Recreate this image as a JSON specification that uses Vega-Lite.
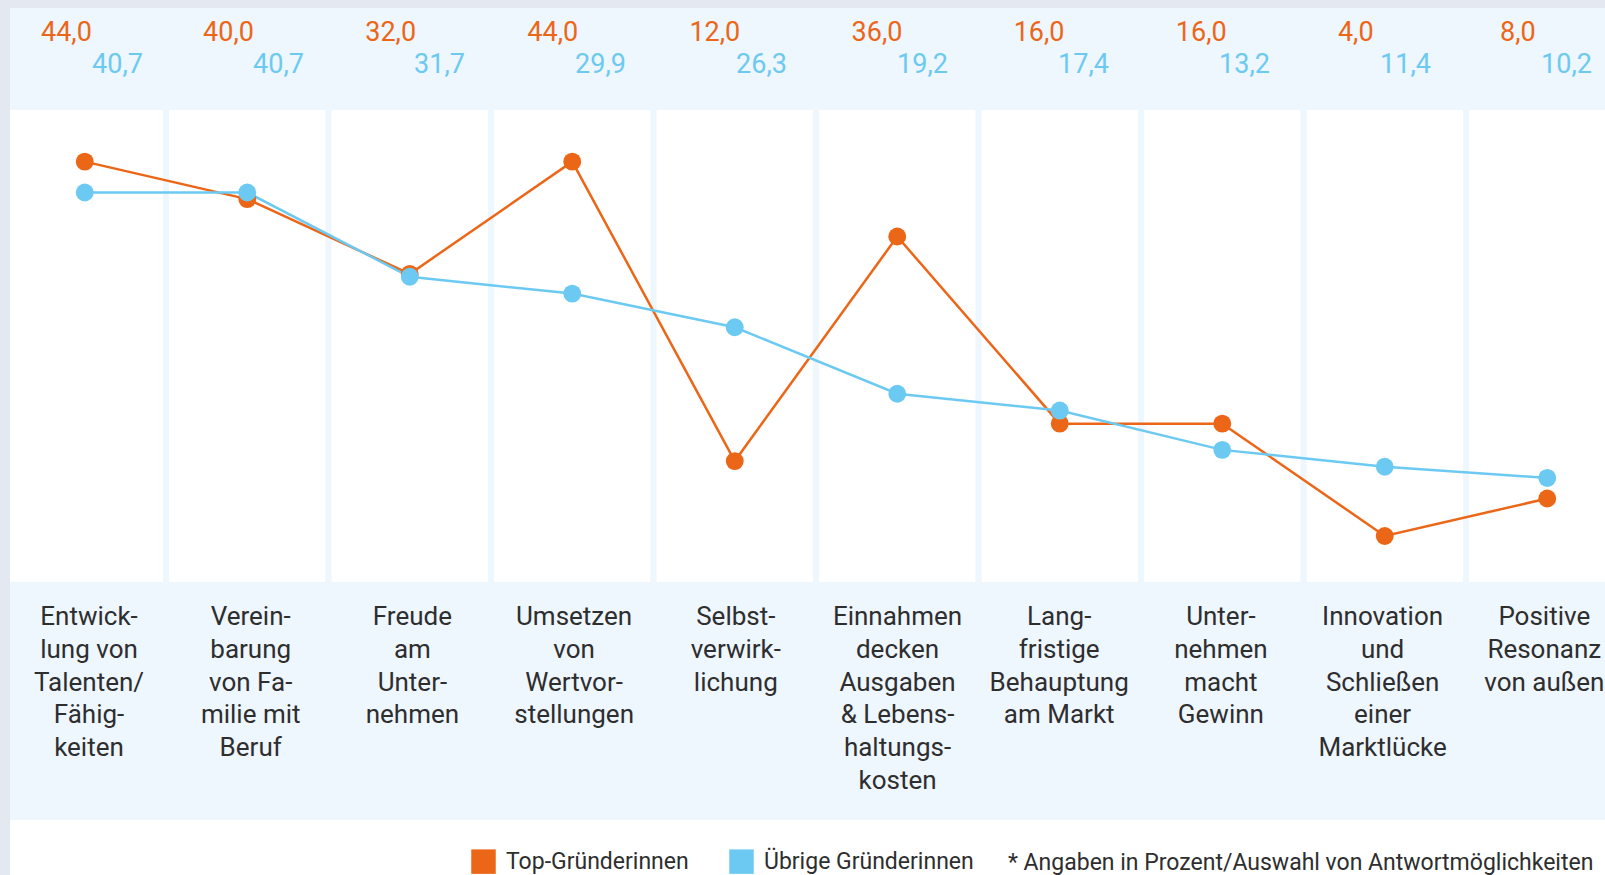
{
  "$schema": "https://vega.github.io/schema/vega-lite/v6.json",
  "background": "#e4e8f0",
  "padding": {"left": 10, "top": 8, "right": 0, "bottom": 0},
  "spacing": 0,
  "bounds": "flush",
  "config": {
    "view": {"stroke": null},
    "locale": {"number": {"decimal": ",", "thousands": ".", "grouping": [3], "currency": ["", " €"]}},
    "text": {"font": "Roboto"}
  },
  "data": {
    "values": [
      {"kategorie": "Entwicklung von Talenten/Fähigkeiten", "zeilen": ["Entwick-", "lung von", "Talenten/", "Fähig-", "keiten"], "Top-Gründerinnen": 44.0, "Übrige Gründerinnen": 40.7},
      {"kategorie": "Vereinbarung von Familie mit Beruf", "zeilen": ["Verein-", "barung", "von Fa-", "milie mit", "Beruf"], "Top-Gründerinnen": 40.0, "Übrige Gründerinnen": 40.7},
      {"kategorie": "Freude am Unternehmen", "zeilen": ["Freude", "am", "Unter-", "nehmen"], "Top-Gründerinnen": 32.0, "Übrige Gründerinnen": 31.7},
      {"kategorie": "Umsetzen von Wertvorstellungen", "zeilen": ["Umsetzen", "von", "Wertvor-", "stellungen"], "Top-Gründerinnen": 44.0, "Übrige Gründerinnen": 29.9},
      {"kategorie": "Selbstverwirklichung", "zeilen": ["Selbst-", "verwirk-", "lichung"], "Top-Gründerinnen": 12.0, "Übrige Gründerinnen": 26.3},
      {"kategorie": "Einnahmen decken Ausgaben & Lebenshaltungskosten", "zeilen": ["Einnahmen", "decken", "Ausgaben", "& Lebens-", "haltungs-", "kosten"], "Top-Gründerinnen": 36.0, "Übrige Gründerinnen": 19.2},
      {"kategorie": "Langfristige Behauptung am Markt", "zeilen": ["Lang-", "fristige", "Behauptung", "am Markt"], "Top-Gründerinnen": 16.0, "Übrige Gründerinnen": 17.4},
      {"kategorie": "Unternehmen macht Gewinn", "zeilen": ["Unter-", "nehmen", "macht", "Gewinn"], "Top-Gründerinnen": 16.0, "Übrige Gründerinnen": 13.2},
      {"kategorie": "Innovation und Schließen einer Marktlücke", "zeilen": ["Innovation", "und", "Schließen", "einer", "Marktlücke"], "Top-Gründerinnen": 4.0, "Übrige Gründerinnen": 11.4},
      {"kategorie": "Positive Resonanz von außen", "zeilen": ["Positive", "Resonanz", "von außen"], "Top-Gründerinnen": 8.0, "Übrige Gründerinnen": 10.2}
    ]
  },
  "vconcat": [
    {
      "width": 1595,
      "height": 102,
      "view": {"fill": "#eef6fe", "stroke": null},
      "transform": [{"fold": ["Top-Gründerinnen", "Übrige Gründerinnen"], "as": ["gruppe", "wert"]}],
      "layer": [
        {
          "transform": [{"filter": "datum.gruppe === 'Top-Gründerinnen'"}],
          "mark": {"type": "text", "font": "Roboto", "fontSize": 27, "align": "left", "baseline": "alphabetic", "color": "#ec6618"},
          "encoding": {
            "x": {"field": "kategorie", "type": "nominal", "sort": null, "axis": null, "scale": {"type": "point", "range": [31, 1490], "padding": 0}},
            "y": {"field": "gruppe", "type": "nominal", "axis": null, "scale": {"type": "point", "domain": ["Top-Gründerinnen", "Übrige Gründerinnen"], "range": [33.2, 65.3], "padding": 0}},
            "text": {"field": "wert", "type": "quantitative", "format": ".1f"}
          }
        },
        {
          "transform": [{"filter": "datum.gruppe === 'Übrige Gründerinnen'"}],
          "mark": {"type": "text", "font": "Roboto", "fontSize": 27, "align": "left", "baseline": "alphabetic", "color": "#6ccaf2"},
          "encoding": {
            "x": {"field": "kategorie", "type": "nominal", "sort": null, "axis": null, "scale": {"type": "point", "range": [82.1, 1531.1], "padding": 0}},
            "y": {"field": "gruppe", "type": "nominal", "axis": null, "scale": {"type": "point", "domain": ["Top-Gründerinnen", "Übrige Gründerinnen"], "range": [33.2, 65.3], "padding": 0}},
            "text": {"field": "wert", "type": "quantitative", "format": ".1f"}
          }
        }
      ],
      "resolve": {"scale": {"x": "independent"}}
    },
    {
      "width": 1595,
      "height": 472,
      "view": {"fill": "#ffffff", "stroke": null},
      "layer": [
        {
          "transform": [{"filter": "datum.kategorie !== 'Entwicklung von Talenten/Fähigkeiten'"}],
          "mark": {"type": "rule", "strokeWidth": 6, "color": "#eef6fe"},
          "encoding": {
            "x": {"field": "kategorie", "type": "nominal", "bandPosition": 0, "axis": null,
                  "scale": {"type": "band", "paddingInner": 0, "paddingOuter": 0, "range": [-6.5, 1618.5],
                            "domain": ["Entwicklung von Talenten/Fähigkeiten", "Vereinbarung von Familie mit Beruf", "Freude am Unternehmen", "Umsetzen von Wertvorstellungen", "Selbstverwirklichung", "Einnahmen decken Ausgaben & Lebenshaltungskosten", "Langfristige Behauptung am Markt", "Unternehmen macht Gewinn", "Innovation und Schließen einer Marktlücke", "Positive Resonanz von außen"]}}
          }
        },
        {
          "transform": [{"fold": ["Top-Gründerinnen", "Übrige Gründerinnen"], "as": ["gruppe", "wert"]}, {"filter": "datum.gruppe === 'Top-Gründerinnen'"}],
          "mark": {"type": "line", "color": "#ec6618", "strokeWidth": 2.5},
          "encoding": {
            "x": {"field": "kategorie", "type": "nominal", "axis": null},
            "y": {"field": "wert", "type": "quantitative", "axis": null, "scale": {"domain": [-0.92, 49.52], "nice": false, "zero": false}}
          }
        },
        {
          "transform": [{"fold": ["Top-Gründerinnen", "Übrige Gründerinnen"], "as": ["gruppe", "wert"]}, {"filter": "datum.gruppe === 'Übrige Gründerinnen'"}],
          "mark": {"type": "line", "color": "#6ccaf2", "strokeWidth": 2.5},
          "encoding": {
            "x": {"field": "kategorie", "type": "nominal", "axis": null},
            "y": {"field": "wert", "type": "quantitative", "axis": null}
          }
        },
        {
          "transform": [{"fold": ["Top-Gründerinnen", "Übrige Gründerinnen"], "as": ["gruppe", "wert"]}],
          "mark": {"type": "point", "filled": true, "opacity": 1, "size": 320},
          "encoding": {
            "x": {"field": "kategorie", "type": "nominal", "axis": null},
            "y": {"field": "wert", "type": "quantitative", "axis": null},
            "color": {
              "field": "gruppe", "type": "nominal",
              "scale": {"domain": ["Top-Gründerinnen", "Übrige Gründerinnen"], "range": ["#ec6618", "#6ccaf2"]},
              "legend": {
                "orient": "none", "legendX": 461, "legendY": 841, "direction": "horizontal", "title": null,
                "symbolType": "square", "symbolSize": 600, "symbolStrokeWidth": 0, "symbolOpacity": 1,
                "labelFont": "Roboto", "labelFontSize": 23, "labelColor": "#2e2e2e",
                "labelOffset": 10, "labelLimit": 400, "columnPadding": 40, "padding": 0, "offset": 0
              }
            }
          }
        }
      ]
    },
    {
      "width": 1595,
      "height": 238,
      "view": {"fill": "#eef6fe", "stroke": null},
      "mark": {"type": "text", "font": "Roboto", "fontSize": 26, "lineHeight": 32.75, "align": "center", "baseline": "alphabetic", "dy": -76, "color": "#2e2e2e", "clip": true},
      "encoding": {
        "x": {"field": "kategorie", "type": "nominal", "sort": null, "axis": null, "scale": {"type": "point", "range": [79, 1534.3], "padding": 0}},
        "text": {"field": "zeilen"}
      }
    },
    {
      "width": 1595,
      "height": 55,
      "view": {"fill": "#ffffff", "stroke": null},
      "data": {"values": [{"hinweis": "* Angaben in Prozent/Auswahl von Antwortmöglichkeiten"}]},
      "mark": {"type": "text", "font": "Roboto", "fontSize": 23, "align": "left", "baseline": "alphabetic", "dx": 200.5, "dy": 22.5, "color": "#2e2e2e"},
      "encoding": {"text": {"field": "hinweis", "type": "nominal"}}
    }
  ]
}
